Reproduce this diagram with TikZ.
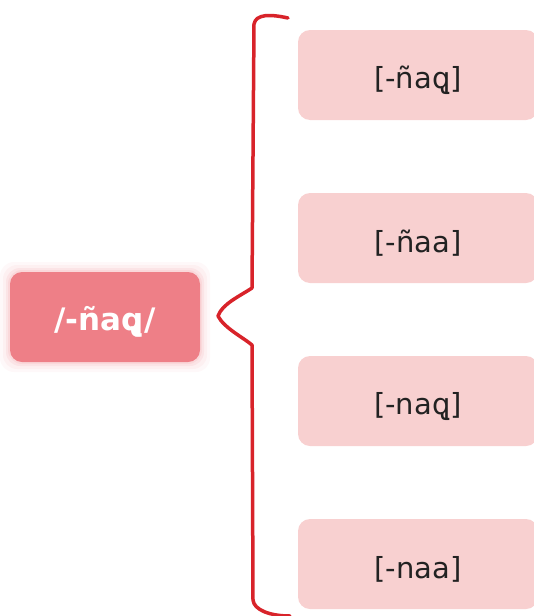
\documentclass[tikz,border=0pt]{standalone}
\usepackage{fontspec}
\setmainfont{DejaVu Sans}
\usepackage{xcolor}
\definecolor{rootpink}{HTML}{EE7F87}
\definecolor{leafpink}{HTML}{F8D0D0}
\definecolor{bracered}{HTML}{D8232A}
\definecolor{leaftext}{HTML}{222222}
\tikzset{
  root/.style={fill=rootpink, rounded corners=12pt, minimum width=190pt, minimum height=90pt,
    text=white, font=\fontsize{31}{34}\selectfont\bfseries},
  leaf/.style={fill=leafpink, rounded corners=12pt, minimum width=240pt, minimum height=90pt,
    text=leaftext, font=\fontsize{29}{32}\selectfont},
}
\newcommand{\lowtext}[1]{\raisebox{-5pt}[\height][\depth]{#1}}
\begin{document}
\begin{tikzpicture}[x=1pt,y=-1pt]
   \useasboundingbox (0,0) rectangle (534,616);
   % soft glow round the root box
   \foreach \g/\o in {10/0.05,7/0.07,4/0.1,2/0.12}
     \fill[rootpink, opacity=\o, rounded corners=14pt] (10-\g,272-\g) rectangle (200+\g,362+\g);
   \node[root] (root) at (105,317) {\lowtext{/-ñaq̢/}};
   \node[leaf] (l1) at (418,75) {\lowtext{[-ñaq̢]}};
   \node[leaf] (l2) at (418,238) {\lowtext{[-ñaa]}};
   \node[leaf] (l3) at (418,401) {\lowtext{[-naq̢]}};
   \node[leaf] (l4) at (418,564) {\lowtext{[-naa]}};
   % the brace
   \draw[bracered, line width=3.5pt, line cap=round, line join=round]
     (288,18) .. controls (270,14) and (256,14) .. (254,24) -- (252,288)
     .. controls (240,296) and (222,304) .. (218,316)
     .. controls (224,328) and (244,338) .. (252,345) -- (253,600)
     .. controls (254,610) and (270,616) .. (290,616);
\end{tikzpicture}
\end{document}
